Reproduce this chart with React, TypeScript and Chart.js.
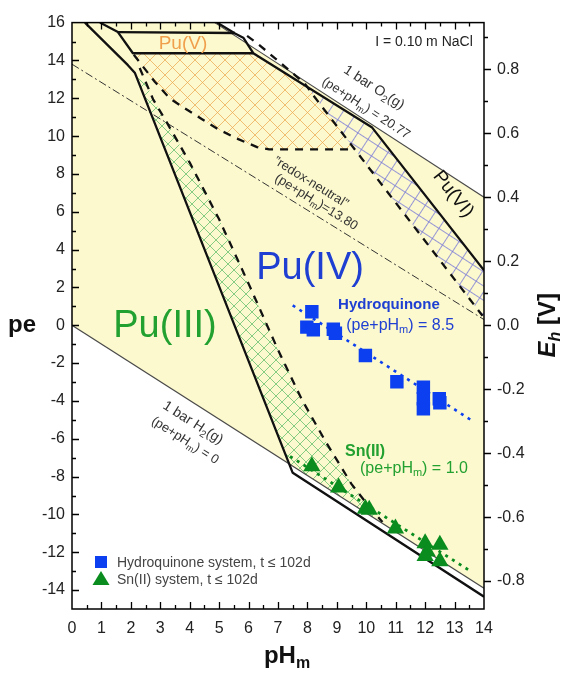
import React, { useEffect, useRef } from "react";
import { Chart, registerables } from "chart.js";

Chart.register(...registerables);

const FAMILY = "'Liberation Sans', Arial, Helvetica, sans-serif";
const EH_PER_PE = 0.05916;
const PH_MIN = 0;
const PH_MAX = 14;
const PE_MIN = -15;
const PE_MAX = 16;
const PH_TICKS = [0, 1, 2, 3, 4, 5, 6, 7, 8, 9, 10, 11, 12, 13, 14];
const PE_TICKS = [-14, -12, -10, -8, -6, -4, -2, 0, 2, 4, 6, 8, 10, 12, 14, 16];
const EH_TICKS = [-0.8, -0.6, -0.4, -0.2, 0, 0.2, 0.4, 0.6, 0.8];

type P = [number, number];

// [pH, pe] vertices / line points
const waterField: P[] = [[0, 16], [4.85, 16], [14, 6.77], [14, -13.9], [0, 0]];
const o2Line: P[] = [[4.85, 16], [14, 6.77]];
const h2Line: P[] = [[0, 0], [14, -13.9]];
const redoxNeutralLine: P[] = [[0, 13.8], [14, 0.3]];

const pu3Boundary: P[] = [[0.44, 16], [1.9, 13.75], [2.14, 13.33], [7.5, -7.8], [14, -14.35]];
const pu5BoxSide: P[] = [[0.95, 16], [1.56, 15.5], [2.07, 14.38], [6.16, 14.38]];
const pu5BoxTop: P[] = [[1.56, 15.5], [5.54, 15.45]];
const pu6Boundary: P[] = [[4.93, 16], [5.54, 15.42], [5.82, 15.2], [6.16, 14.38], [10.2, 10.45], [14, 2.9]];

const pu5DashedLower: P[] = [[2.1, 14.3], [2.82, 12.86], [3.33, 11.98], [3.84, 11.46], [4.42, 10.89], [4.97, 10.36], [5.65, 9.84], [6.29, 9.42], [6.7, 9.3], [9.6, 9.3]];
const pu6Dashed: P[] = [[5.95, 15.3], [6.3, 14.9], [7.9, 12.8], [8.25, 12.05], [13.95, 0.5]];
const pu3Dashed: P[] = [[2.3, 13.6], [2.76, 11.93], [3.23, 10.7], [4.0, 8.6], [5.0, 5.6], [6.0, 2.2], [7.0, -1.3], [7.8, -3.9], [8.6, -6.1], [9.5, -8.4], [10.1, -9.6], [10.55, -10.4]];

const orangeHatchArea: P[] = [[2.07, 14.38], [6.16, 14.38], [8.05, 12.55], [9.6, 9.3], [6.7, 9.3], [6.29, 9.42], [5.65, 9.84], [4.97, 10.36], [4.42, 10.89], [3.84, 11.46], [3.33, 11.98], [2.82, 12.86], [2.1, 14.3]];
const greenHatchArea: P[] = [[2.2, 13.1], [7.38, -7.33], [10.5, -10.43], [10.1, -9.6], [9.5, -8.4], [8.6, -6.1], [7.8, -3.9], [7.0, -1.3], [6.0, 2.2], [5.0, 5.6], [4.0, 8.6], [3.23, 10.7], [2.76, 11.93], [2.5, 12.9]];
const blueHatchArea: P[] = [[8.0, 12.6], [10.2, 10.45], [14, 2.9], [14, 0.4], [8.25, 12.05]];

const hydroquinoneLine: P[] = [[7.5, 1.05], [13.55, -5.0]];
const snLine: P[] = [[7.41, -6.93], [13.54, -13.0]];

// experimental points
const hqPH = [8.15, 7.98, 8.2, 8.88, 8.95, 9.97, 11.04, 11.94, 11.94, 11.94, 12.48, 12.5];
const hqPE = [0.71, -0.1, -0.24, -0.21, -0.42, -1.6, -2.99, -3.28, -3.89, -4.41, -3.89, -4.1];
const snPH = [8.15, 9.06, 9.97, 10.1, 10.99, 12.0, 12.07, 12.0, 12.5, 12.5];
const snPE = [-7.45, -8.58, -9.7, -9.75, -10.75, -11.53, -11.96, -12.2, -11.6, -12.48];

const YELLOW = "rgb(252,249,206)";
const BLUE = "#0b3ff0";
const BLUE_TEXT = "#1e3fd2";
const GREEN = "#0a8c1e";
const GREEN_TEXT = "#22a030";
const ORANGE_TEXT = "#f0a04c";
const LINE_GRAY = "#4a4a4a";
const BLACK = "#111";

type Seg = { t: string; sub?: boolean; italic?: boolean };
type Label = { segs: Seg[]; pH: number; pe: number; size: number; color: string; bold?: boolean; along?: P[] };

const sub = (t: string): Seg => ({ t, sub: true });
const LABELS: Label[] = [
  { segs: [{ t: "Pu(V)" }], pH: 3.77, pe: 14.9, size: 19, color: ORANGE_TEXT },
  { segs: [{ t: "I = 0.10 m NaCl" }], pH: 11.96, pe: 14.96, size: 14, color: "#222" },
  { segs: [{ t: "1 bar O" }, sub("2"), { t: "(g)" }], pH: 10.26, pe: 12.56, size: 14, color: "#333", along: o2Line },
  { segs: [{ t: "(pe+pH" }, sub("m"), { t: ") = 20.77" }], pH: 9.99, pe: 11.47, size: 13, color: "#333", along: o2Line },
  { segs: [{ t: "\u201Dredox-neutral\u201D" }], pH: 8.12, pe: 7.55, size: 13, color: "#333", along: redoxNeutralLine },
  { segs: [{ t: "(pe+pH" }, sub("m"), { t: ")=13.80" }], pH: 8.3, pe: 6.5, size: 13, color: "#333", along: redoxNeutralLine },
  { segs: [{ t: "Pu(VI)" }], pH: 12.95, pe: 6.93, size: 19, color: "#111", along: [[10.2, 10.45], [14, 2.9]] },
  { segs: [{ t: "Pu(IV)" }], pH: 8.09, pe: 3.02, size: 38, color: BLUE_TEXT },
  { segs: [{ t: "Hydroquinone" }], pH: 10.77, pe: 1.09, size: 15, color: BLUE_TEXT, bold: true },
  { segs: [{ t: "(pe+pH" }, sub("m"), { t: ") = 8.5" }], pH: 11.15, pe: 0.0, size: 16, color: BLUE_TEXT },
  { segs: [{ t: "Pu(III)" }], pH: 3.16, pe: -0.05, size: 38, color: GREEN_TEXT },
  { segs: [{ t: "1 bar H" }, sub("2"), { t: "(g)" }], pH: 4.11, pe: -5.16, size: 14, color: "#333", along: h2Line },
  { segs: [{ t: "(pe+pH" }, sub("m"), { t: ") = 0" }], pH: 3.84, pe: -6.1, size: 13, color: "#333", along: h2Line },
  { segs: [{ t: "Sn(II)" }], pH: 9.96, pe: -6.67, size: 16, color: GREEN_TEXT, bold: true },
  { segs: [{ t: "(pe+pH" }, sub("m"), { t: ") = 1.0" }], pH: 11.62, pe: -7.56, size: 16, color: GREEN_TEXT },
];

const LEGEND_ITEMS = [
  { text: "Hydroquinone system, t \u2264 102d", marker: "rect", color: BLUE },
  { text: "Sn(II) system, t \u2264 102d", marker: "triangle", color: GREEN },
];

const xy = (arr: P[]) => arr.map(([x, y]) => ({ x, y }));

function drawRich(ctx: CanvasRenderingContext2D, segs: Seg[], x: number, y: number, size: number, color: string, bold = false, angle = 0, align: "center" | "left" = "center") {
  ctx.save();
  ctx.translate(x, y);
  if (angle) ctx.rotate(angle);
  const fontFor = (s: Seg) => `${s.italic ? "italic " : ""}${bold ? "bold " : ""}${s.sub ? Math.round(size * 0.68) : size}px ${FAMILY}`;
  let w = 0;
  for (const s of segs) {
    ctx.font = fontFor(s);
    w += ctx.measureText(s.t).width;
  }
  let cx = align === "left" ? 0 : -w / 2;
  ctx.textBaseline = "middle";
  ctx.textAlign = "left";
  ctx.fillStyle = color;
  for (const s of segs) {
    ctx.font = fontFor(s);
    ctx.fillText(s.t, cx, s.sub ? size * 0.32 : 0);
    cx += ctx.measureText(s.t).width;
  }
  ctx.restore();
}

function crossHatch(color: string, size: number, lw: number): CanvasPattern | string {
  const c = document.createElement("canvas");
  c.width = size;
  c.height = size;
  const g = c.getContext("2d");
  if (!g) return color;
  g.strokeStyle = color;
  g.lineWidth = lw;
  g.beginPath();
  for (const k of [-1, 0, 1]) {
    g.moveTo(k * size, 0);
    g.lineTo(k * size + size, size);
    g.moveTo(k * size + size, 0);
    g.lineTo(k * size, size);
  }
  g.stroke();
  const p = g.createPattern(c, "repeat");
  return p || color;
}

function gridHatch(color: string, size: number, lw: number, deg: number): CanvasPattern | string {
  const c = document.createElement("canvas");
  c.width = size;
  c.height = size;
  const g = c.getContext("2d");
  if (!g) return color;
  g.strokeStyle = color;
  g.lineWidth = lw;
  g.beginPath();
  g.moveTo(0, 0.5);
  g.lineTo(size, 0.5);
  g.moveTo(0.5, 0);
  g.lineTo(0.5, size);
  g.stroke();
  const p = g.createPattern(c, "repeat");
  if (!p) return color;
  try {
    p.setTransform(new DOMMatrix().rotate(deg));
  } catch (e) {
    /* ignore */
  }
  return p;
}

const decorPlugin = {
  id: "decor",
  afterDraw(chart: any) {
    const { ctx, chartArea: a, scales } = chart;
    const sx = scales.x;
    const sy = scales.y;
    const se = scales.eh;
    ctx.save();

    // labels
    for (const L of LABELS) {
      let ang = 0;
      if (L.along) {
        const [p0, p1] = [L.along[0], L.along[L.along.length - 1]];
        const dx = sx.getPixelForValue(p1[0]) - sx.getPixelForValue(p0[0]);
        const dy = sy.getPixelForValue(p1[1]) - sy.getPixelForValue(p0[1]);
        ang = Math.atan2(dy, dx);
      }
      drawRich(ctx, L.segs, sx.getPixelForValue(L.pH), sy.getPixelForValue(L.pe), L.size, L.color, !!L.bold, ang);
    }

    // legend
    const lx = a.left + 29;
    LEGEND_ITEMS.forEach((it, i) => {
      const ly = a.bottom - 47 + i * 17;
      ctx.fillStyle = it.color;
      if (it.marker === "rect") {
        ctx.fillRect(lx - 6, ly - 6, 12, 12);
      } else {
        ctx.beginPath();
        ctx.moveTo(lx, ly - 8);
        ctx.lineTo(lx + 8.5, ly + 6);
        ctx.lineTo(lx - 8.5, ly + 6);
        ctx.closePath();
        ctx.fill();
      }
      drawRich(ctx, [{ t: it.text }], lx + 16, ly + 1, 14, "#444", false, 0, "left");
    });

    // frame
    ctx.strokeStyle = "#000";
    ctx.lineWidth = 1.5;
    ctx.strokeRect(a.left, a.top, a.right - a.left, a.bottom - a.top);

    // ticks
    ctx.lineWidth = 1.3;
    ctx.beginPath();
    for (let v = PE_MIN + 1; v < PE_MAX; v++) {
      const py = Math.round(sy.getPixelForValue(v)) + 0.5;
      const len = v % 2 === 0 ? 7 : 4;
      ctx.moveTo(a.left, py);
      ctx.lineTo(a.left + len, py);
    }
    for (let v = PH_MIN + 0.5; v < PH_MAX; v += 0.5) {
      const px = Math.round(sx.getPixelForValue(v)) + 0.5;
      const len = Number.isInteger(v) ? 7 : 4;
      ctx.moveTo(px, a.bottom);
      ctx.lineTo(px, a.bottom - len);
      ctx.moveTo(px, a.top);
      ctx.lineTo(px, a.top + len);
    }
    for (let k = -8; k <= 9; k++) {
      const v = k / 10;
      const py = Math.round(se.getPixelForValue(v)) + 0.5;
      const major = k % 2 === 0;
      ctx.moveTo(a.right, py);
      ctx.lineTo(a.right + (major ? 7 : 4), py);
    }
    ctx.stroke();

    // axis titles
    const midY = sy.getPixelForValue(0);
    drawRich(ctx, [{ t: "pe" }], 22, midY, 24, "#111", true);
    drawRich(ctx, [{ t: "pH" }, { t: "m", sub: true }], (a.left + a.right) / 2 + 9, a.bottom + 47, 24, "#111", true);
    drawRich(ctx, [{ t: "E", italic: true }, { t: "h", sub: true, italic: true }, { t: " [V]" }], a.right + 64, midY, 24, "#111", true, -Math.PI / 2);

    ctx.restore();
  },
};

export default function App() {
  const ref = useRef<HTMLCanvasElement | null>(null);

  useEffect(() => {
    const canvas = ref.current;
    if (!canvas) return;
    const ctx = canvas.getContext("2d");
    if (!ctx) return;

    const orange = crossHatch("rgba(236,168,82,0.75)", 15, 1);
    const green = crossHatch("rgba(95,190,105,0.75)", 12, 1);
    const blue = gridHatch("rgba(125,125,215,0.8)", 12, 1, 33);

    const fillDs = (pts: P[], bg: any) => ({
      data: xy(pts),
      showLine: true,
      fill: "shape",
      backgroundColor: bg,
      borderWidth: 0,
      borderColor: "rgba(0,0,0,0)",
      pointRadius: 0,
      tension: 0,
    });
    const lineDs = (pts: P[], color: string, width: number, dash: number[] = []) => ({
      data: xy(pts),
      showLine: true,
      fill: false,
      borderColor: color,
      borderWidth: width,
      borderDash: dash,
      borderJoinStyle: "round",
      pointRadius: 0,
      tension: 0,
    });
    const markerDs = (xs: number[], ys: number[], style: string, color: string, r: number) => ({
      data: xs.map((x, i) => ({ x, y: ys[i] })),
      showLine: false,
      fill: false,
      pointStyle: style,
      pointRadius: r,
      pointBackgroundColor: color,
      pointBorderColor: color,
      pointBorderWidth: 0,
    });

    const datasets: any[] = [
      fillDs(waterField, YELLOW),
      fillDs(orangeHatchArea, orange),
      fillDs(greenHatchArea, green),
      fillDs(blueHatchArea, blue),
      lineDs(o2Line, LINE_GRAY, 1.1),
      lineDs(h2Line, LINE_GRAY, 1.1),
      lineDs(redoxNeutralLine, "#333", 1, [8, 3, 2, 3]),
      lineDs(pu5DashedLower, BLACK, 2.3, [8, 7]),
      lineDs(pu6Dashed, BLACK, 2.3, [8, 7]),
      lineDs(pu3Dashed, BLACK, 2.3, [8, 7]),
      lineDs(pu3Boundary, BLACK, 2.3),
      lineDs(pu5BoxSide, BLACK, 2.3),
      lineDs(pu5BoxTop, BLACK, 2.3),
      lineDs(pu6Boundary, BLACK, 2.3),
      lineDs(hydroquinoneLine, BLUE, 2.6, [3, 5]),
      lineDs(snLine, GREEN, 2.8, [3, 5]),
      markerDs(hqPH, hqPE, "rect", BLUE, 9.5),
      markerDs(snPH, snPE, "triangle", GREEN, 10),
    ];
    datasets.forEach((d, i) => (d.order = datasets.length - i));

    const tickFont = { family: FAMILY, size: 16 };
    const chart = new Chart(ctx, {
      type: "line",
      data: { datasets },
      options: {
        responsive: false,
        animation: false,
        devicePixelRatio: 1,
        events: [],
        layout: { padding: { top: 14, left: 0, right: 0, bottom: 0 } },
        plugins: { legend: { display: false }, tooltip: { enabled: false } },
        scales: {
          x: {
            type: "linear",
            position: "bottom",
            min: PH_MIN,
            max: PH_MAX,
            afterBuildTicks: (s: any) => {
              s.ticks = PH_TICKS.map((v) => ({ value: v }));
            },
            afterFit: (s: any) => {
              s.height = 71;
            },
            grid: { display: false, drawTicks: false },
            border: { display: false },
            ticks: { font: tickFont, color: "#222", padding: 10, maxRotation: 0, autoSkip: false, callback: (v: any) => String(v) },
          },
          y: {
            type: "linear",
            position: "left",
            min: PE_MIN,
            max: PE_MAX,
            afterBuildTicks: (s: any) => {
              s.ticks = PE_TICKS.map((v) => ({ value: v }));
            },
            afterFit: (s: any) => {
              s.width = 72;
            },
            grid: { display: false, drawTicks: false },
            border: { display: false },
            ticks: { font: tickFont, color: "#222", padding: 7, autoSkip: false, callback: (v: any) => String(v) },
          },
          eh: {
            type: "linear",
            position: "right",
            min: PE_MIN * EH_PER_PE,
            max: PE_MAX * EH_PER_PE,
            afterBuildTicks: (s: any) => {
              s.ticks = EH_TICKS.map((v) => ({ value: v }));
            },
            afterFit: (s: any) => {
              s.width = 92;
            },
            grid: { display: false, drawTicks: false },
            border: { display: false },
            ticks: { font: tickFont, color: "#222", padding: 13, autoSkip: false, callback: (v: any) => Number(v).toFixed(1) },
          },
        },
      } as any,
      plugins: [decorPlugin],
    });

    return () => chart.destroy();
  }, []);

  return (
    <div style={{ position: "absolute", left: 0, top: 0, width: 576, height: 680, background: "#fff" }}>
      <canvas ref={ref} width={576} height={680} style={{ display: "block" }} />
    </div>
  );
}
